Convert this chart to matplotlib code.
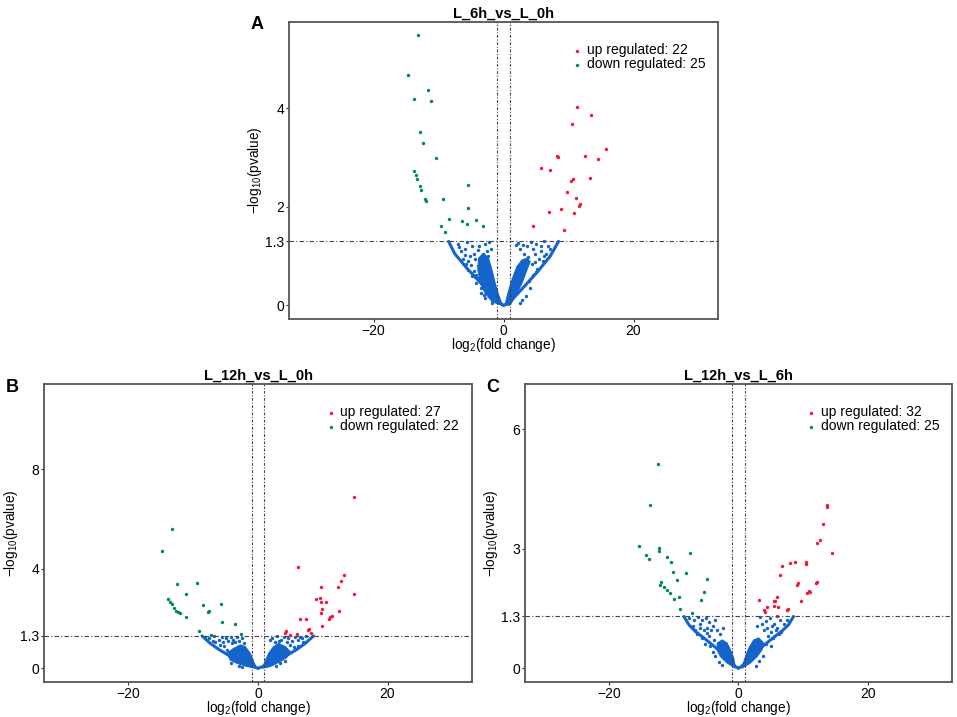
import matplotlib
matplotlib.use("Agg")
import matplotlib.pyplot as plt

plt.rcParams['font.family'] = ['Liberation Sans', 'DejaVu Sans']
plt.rcParams['mathtext.fontset'] = 'custom'
plt.rcParams['mathtext.rm'] = 'Liberation Sans'
plt.rcParams['mathtext.it'] = 'Liberation Sans'

RED = '#f5163c'
GREEN = '#008a55'
BLUE = '#1464cc'

# ---------------- panel A: L_6h_vs_L_0h ----------------
a_title = "L_6h_vs_L_0h"
a_up_x = [11.33, 13.49, 10.51, 15.69, 8.15, 8.36, 12.46, 14.51, 5.74, 7.08, 13.23,
          10.72, 10.41, 9.74, 11.08, 11.79, 11.64, 6.97, 8.82, 10.82, 4.56, 9.23]
a_up_y = [4.02, 3.87, 3.68, 3.17, 3.03, 3.02, 3.04, 2.98, 2.79, 2.75, 2.59,
          2.56, 2.52, 2.30, 2.18, 2.06, 2.02, 1.89, 1.95, 1.87, 1.62, 1.53]
a_dn_x = [-13.23, -14.77, -11.59, -13.79, -11.23, -12.82, -12.41, -10.36, -13.74, -13.49,
          -13.28, -12.82, -12.67, -12.05, -11.95, -9.28, -5.54, -5.44, -8.46, -9.59,
          -9.08, -6.36, -5.59, -4.21, -3.23]
a_dn_y = [5.48, 4.67, 4.37, 4.18, 4.14, 3.52, 3.30, 2.99, 2.73, 2.64,
          2.56, 2.42, 2.34, 2.15, 2.11, 2.15, 2.45, 1.97, 1.75, 1.62,
          1.49, 1.72, 1.66, 1.74, 1.62]
a_ns_x = [-7.0, -5.6, -6.5, -5.9, -4.8, -4.5, -6.2, -5.4, -5.0, -4.6, -4.2, -3.9, -5.8,
          -3.5, -3.0, -2.8, -2.6, -4.4, -3.9, -2.8, -2.2, -2.5, -3.2, -1.8, -4.2,
          -6.8, -6.0, -5.2, -4.9, -4.0, -3.4, -3.7, -2.4, -1.9, -5.5,
          2.2, 3.0, 4.2, 5.0, 5.8, 6.3, 6.8, 4.8, 5.5, 6.0, 4.4, 5.2, 4.6, 3.9, 4.1,
          3.4, 2.9, 2.5, 3.2, 2.6, 6.5, 7.2, 5.7, 4.5, 3.6, 5.0, 6.2, 1.9, 3.8, 4.9]
a_ns_y = [1.25, 1.28, 1.10, 1.15, 1.20, 1.05, 0.95, 0.90, 0.82, 0.70, 0.62, 0.55, 0.85,
          0.35, 0.22, 0.15, 0.30, 0.95, 1.12, 1.25, 1.28, 1.10, 1.05, 0.05, 0.45,
          1.18, 1.02, 1.00, 0.60, 0.80, 0.25, 1.20, 1.00, 1.15, 0.72,
          1.27, 1.22, 1.28, 1.25, 1.20, 1.30, 1.20, 1.05, 0.95, 0.90, 0.85, 0.75, 0.62, 0.50, 0.35,
          0.20, 0.12, 0.05, 1.05, 1.15, 1.05, 1.15, 1.10, 1.15, 1.20, 0.68, 1.00, 1.22, 0.98, 0.88]
a_edge_lx = [-8.45, -7.5, -5.6, -3.6, -1.5, 0.0]
a_edge_ly = [1.30, 1.05, 0.75, 0.47, 0.16, 0.0]
a_edge_rx = [0.0, 1.03, 3.08, 5.14, 7.18, 8.46]
a_edge_ry = [0.0, 0.08, 0.37, 0.67, 1.0, 1.30]
a_core_lx = [-0.25, -1.78, -2.82, -3.58, -3.94, -3.84, -3.08, -2.31, -1.78, -1.28, -0.77, -0.25]
a_core_ly = [0.0, 0.08, 0.25, 0.45, 0.72, 0.96, 1.06, 0.96, 0.72, 0.45, 0.22, 0.03]
a_core_rx = [0.2, 1.03, 1.8, 2.83, 3.6, 4.1, 3.6, 2.83, 2.06, 1.29, 0.62]
a_core_ry = [0.0, 0.01, 0.18, 0.45, 0.72, 0.89, 0.96, 0.92, 0.79, 0.52, 0.22]
a_yticks = [0, 1.3, 2, 4]
a_ylim = (-0.274, 5.75)

# ---------------- panel B: L_12h_vs_L_0h ----------------
b_title = "L_12h_vs_L_0h"
b_up_x = [14.86, 6.12, 13.32, 12.80, 12.39, 9.67, 14.76, 9.00, 9.61, 9.67, 10.49, 9.92,
          9.67, 12.44, 11.16, 10.90, 6.48, 7.35, 7.81, 7.66, 9.82, 4.32, 4.22, 6.07,
          5.0, 8.2, 11.5]
b_up_y = [6.89, 4.08, 3.76, 3.52, 3.28, 3.28, 2.99, 2.79, 2.83, 2.68, 2.66, 2.39,
          2.22, 2.31, 2.05, 1.97, 1.97, 1.99, 1.58, 1.53, 1.68, 1.49, 1.41, 1.37,
          1.35, 1.40, 2.10]
b_dn_x = [-13.33, -14.82, -12.51, -9.38, -11.13, -13.85, -13.54, -13.28, -12.92, -12.62,
          -12.10, -11.13, -8.46, -7.59, -7.74, -5.69, -5.59, -3.59, -9.13, -7.33, -2.62,
          -12.3]
b_dn_y = [5.58, 4.72, 3.38, 3.42, 2.99, 2.78, 2.68, 2.59, 2.42, 2.32,
          2.23, 2.08, 2.55, 2.32, 2.25, 2.58, 1.84, 1.77, 1.50, 1.34, 1.37,
          2.28]
b_ns_x = [-8.2, -7.5, -6.8, -6.0, -5.6, -5.0, -4.6, -4.2, -3.8, -3.3, -6.6, -5.8, -5.2,
          -4.0, -3.5, -2.5, -2.2, -4.8, -3.0, -2.4, -4.2, -7.0, -5.4, -3.0,
          2.2, 3.0, 3.6, 4.0, 4.6, 5.2, 5.7, 6.2, 6.8, 7.4, 5.0, 5.6, 6.1, 2.7, 3.4,
          2.8, 4.2, 1.8, 7.0, 3.2, 4.4, 6.5]
b_ns_y = [1.25, 1.20, 1.28, 1.15, 1.25, 1.20, 1.10, 1.25, 1.15, 1.25, 1.05, 0.95, 0.90,
          1.00, 1.05, 1.20, 1.00, 0.75, 0.10, 0.05, 0.20, 1.10, 1.05, 1.10,
          1.20, 1.28, 1.15, 1.25, 1.20, 1.10, 1.25, 1.15, 1.20, 1.28, 0.95, 0.85, 0.90, 1.05, 0.20,
          0.10, 0.30, 1.15, 1.05, 1.10, 1.05, 1.25]
b_edge_lx = [-8.64, -7.36, -6.07, -4.78, -3.50, -2.22, -0.93, 0.0]
b_edge_ly = [1.30, 1.00, 0.76, 0.56, 0.37, 0.22, 0.09, 0.0]
b_edge_rx = [0.0, 0.87, 2.16, 3.44, 4.72, 6.01, 7.29, 8.58]
b_edge_ry = [0.0, 0.09, 0.22, 0.37, 0.56, 0.76, 1.00, 1.30]
b_core_lx = [-0.15, -1.70, -3.24, -4.27, -4.78, -3.76, -2.73, -1.96, -1.19, -0.57]
b_core_ly = [0.0, 0.07, 0.20, 0.33, 0.60, 0.80, 0.94, 0.87, 0.60, 0.20]
b_core_rx = [0.62, 1.90, 3.44, 4.47, 4.98, 4.21, 3.18, 2.41, 1.64, 0.97]
b_core_ry = [0.0, 0.07, 0.27, 0.44, 0.67, 0.87, 1.00, 0.87, 0.60, 0.20]
b_yticks = [0, 1.3, 4, 8]
b_ylim = (-0.54, 11.42)

# ---------------- panel C: L_12h_vs_L_6h ----------------
c_title = "L_12h_vs_L_6h"
c_up_x = [13.64, 13.74, 13.08, 12.67, 12.15, 14.51, 8.67, 8.0, 6.72, 10.51, 10.41, 6.36,
          9.18, 9.08, 12.15, 12.0, 10.87, 10.62, 5.95, 5.64, 5.44, 3.23, 9.64, 4.36,
          3.95, 4.10, 5.44, 7.69, 7.49, 5.90, 6.1, 11.0]
c_up_y = [4.09, 4.04, 3.62, 3.22, 3.14, 2.89, 2.66, 2.64, 2.56, 2.66, 2.63, 2.35,
          2.14, 2.09, 2.17, 2.13, 1.95, 1.89, 1.80, 1.70, 1.68, 1.72, 1.68, 1.54,
          1.45, 1.41, 1.57, 1.49, 1.45, 1.30, 1.55, 1.92]
c_dn_x = [-12.41, -13.69, -15.33, -12.26, -12.21, -14.26, -13.79, -10.97, -10.41, -7.49,
          -10.10, -8.05, -9.44, -4.82, -11.95, -11.44, -10.97, -10.51, -5.38, -9.90,
          -9.18, -5.85, -9.0, -7.18, -12.1]
c_dn_y = [5.12, 4.11, 3.08, 3.02, 2.94, 2.84, 2.74, 2.79, 2.68, 2.89,
          2.42, 2.38, 2.21, 2.24, 2.16, 2.04, 1.97, 1.90, 1.91, 1.74,
          1.79, 1.72, 1.49, 1.39, 2.10]
c_ns_x = [-7.6, -6.8, -6.2, -5.6, -5.0, -4.5, -3.6, -7.0, -6.0, -5.3, -4.8, -4.2, -3.9,
          -6.4, -5.6, -4.6, -3.8, -5.2, -4.4, -3.6, -3.0, -2.6, -4.0, -2.9, -6.7,
          -5.9, -4.9, -3.3, -2.4,
          3.3, 4.2, 4.8, 5.5, 6.4, 7.0, 7.5, 4.4, 5.0, 5.8, 4.6, 5.4, 6.2, 3.9, 4.3,
          5.0, 3.8, 3.2, 2.7, 6.6, 2.8, 5.2, 6.0, 3.6]
c_ns_y = [1.25, 1.20, 1.28, 1.20, 1.25, 1.15, 1.20, 1.05, 1.00, 0.95, 1.00, 0.95, 1.05,
          0.85, 0.75, 0.80, 0.70, 0.60, 0.55, 0.30, 0.15, 0.08, 0.40, 0.85, 0.95,
          1.10, 0.88, 0.95, 1.00,
          1.28, 1.18, 1.25, 1.12, 1.20, 1.10, 1.20, 1.00, 0.92, 0.95, 0.80, 0.75, 0.85, 0.95, 0.60,
          0.55, 0.30, 0.18, 0.05, 0.90, 1.05, 1.05, 1.02, 1.10]
c_edge_lx = [-8.41, -7.64, -6.62, -5.33, -4.05, -2.77, -1.49, -0.46, 0.0]
c_edge_ly = [1.30, 1.09, 0.92, 0.76, 0.59, 0.42, 0.21, 0.04, 0.0]
c_edge_rx = [0.0, 0.46, 1.49, 2.77, 4.05, 5.33, 6.62, 7.74, 8.51]
c_edge_ry = [0.0, 0.04, 0.21, 0.42, 0.59, 0.76, 0.92, 1.09, 1.30]
c_core_lx = [-0.46, -1.74, -2.77, -3.28, -3.28, -2.51, -1.74, -1.23, -0.72]
c_core_ly = [0.0, 0.13, 0.29, 0.46, 0.63, 0.71, 0.63, 0.46, 0.25]
c_core_rx = [0.56, 1.85, 2.87, 3.64, 3.90, 3.13, 2.36, 1.59, 0.92]
c_core_ry = [0.0, 0.13, 0.29, 0.46, 0.63, 0.76, 0.71, 0.50, 0.21]
c_yticks = [0, 1.3, 3, 6]
c_ylim = (-0.34, 7.14)


def volcano(ax, title, letter, up_x, up_y, dn_x, dn_y, ns_x, ns_y,
            elx, ely, erx, ery, clx, cly, crx, cry, yticks, ylim):
    """ draws one volcano panel """
    ax.fill(clx, cly, color=BLUE, lw=0.8, zorder=2)
    ax.fill(crx, cry, color=BLUE, lw=0.8, zorder=2)
    ax.plot(elx, ely, color=BLUE, lw=2.2, solid_capstyle='round', zorder=2)
    ax.plot(erx, ery, color=BLUE, lw=2.2, solid_capstyle='round', zorder=2)
    ax.scatter(ns_x, ns_y, s=6, color=BLUE, lw=0, zorder=2)
    ax.scatter(up_x, up_y, s=6, color=RED, lw=0, zorder=3,
               label="up regulated: %d" % len(up_x))
    ax.scatter(dn_x, dn_y, s=6, color=GREEN, lw=0, zorder=3,
               label="down regulated: %d" % len(dn_x))

    ax.axvline(-1, color='#444444', lw=0.8, ls=(0, (2.5, 1.5, 1, 1.5)), zorder=4)
    ax.axvline(1, color='#444444', lw=0.8, ls=(0, (2.5, 1.5, 1, 1.5)), zorder=4)
    ax.axhline(1.3, color='#444444', lw=0.8, ls=(0, (4, 2, 1, 2)), zorder=4)

    ax.set_xlim(-33, 33)
    ax.set_ylim(*ylim)
    ax.set_xticks([-20, 0, 20])
    ax.set_xticklabels(['\u221220', '0', '20'])
    ax.set_yticks(yticks)
    ax.set_yticklabels([str(t) for t in yticks])
    ax.tick_params(labelsize=10, colors='#333333', labelcolor='black',
                   length=2, width=0.8, pad=1.5)
    for sp in ax.spines.values():
        sp.set_color('#555555')
        sp.set_linewidth(1.3)

    ax.set_xlabel(r'log$_2$(fold change)', fontsize=9.8, labelpad=-1)
    ax.set_ylabel(r'$-$log$_{10}$(pvalue)', fontsize=9.8, labelpad=0.5)
    ax.set_title(title, fontsize=10.5, fontweight='bold', pad=3)
    ax.text(-0.09, 0.99, letter, transform=ax.transAxes, fontsize=13,
            fontweight='bold', ha='left', va='center')

    leg = ax.legend(loc='upper right', bbox_to_anchor=(1.0, 0.97), frameon=False,
                    fontsize=10, handletextpad=0.1, handlelength=1.2,
                    labelspacing=0.0, borderaxespad=0.5, markerscale=1.0)
    return leg


fig = plt.figure(figsize=(9.57, 7.17), dpi=100)
axA = fig.add_axes([0.302, 0.5551, 0.4483, 0.4142])
axB = fig.add_axes([0.0463, 0.0492, 0.4466, 0.4152])
axC = fig.add_axes([0.5483, 0.0492, 0.4466, 0.4152])

volcano(axA, a_title, "A", a_up_x, a_up_y, a_dn_x, a_dn_y, a_ns_x, a_ns_y,
        a_edge_lx, a_edge_ly, a_edge_rx, a_edge_ry, a_core_lx, a_core_ly,
        a_core_rx, a_core_ry, a_yticks, a_ylim)
volcano(axB, b_title, "B", b_up_x, b_up_y, b_dn_x, b_dn_y, b_ns_x, b_ns_y,
        b_edge_lx, b_edge_ly, b_edge_rx, b_edge_ry, b_core_lx, b_core_ly,
        b_core_rx, b_core_ry, b_yticks, b_ylim)
volcano(axC, c_title, "C", c_up_x, c_up_y, c_dn_x, c_dn_y, c_ns_x, c_ns_y,
        c_edge_lx, c_edge_ly, c_edge_rx, c_edge_ry, c_core_lx, c_core_ly,
        c_core_rx, c_core_ry, c_yticks, c_ylim)

fig.savefig('out.png', dpi=100)
